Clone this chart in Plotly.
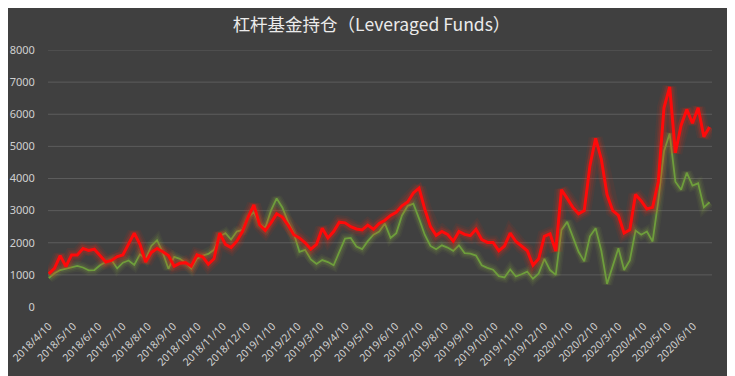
import plotly.graph_objects as go
import pandas as pd

# weekly report dates (Tuesday)
dates = pd.date_range("2018-04-10", periods=117, freq="7D")

red_values = [
    1030, 1200, 1600, 1260, 1620, 1620, 1820, 1760, 1800, 1600,
    1400, 1450, 1570, 1620, 1950, 2300, 1950, 1400, 1700, 1820,
    1720, 1600, 1270, 1360, 1380, 1270, 1620, 1560, 1330, 1500,
    2300, 1950, 1850, 2050, 2350, 2800, 3180, 2560, 2380, 2620,
    2900, 2800, 2550, 2250, 2150, 2000, 1800, 1950, 2450, 2150,
    2350, 2640, 2620, 2500, 2430, 2400, 2550, 2420, 2600, 2700,
    2850, 2950, 3150, 3270, 3550, 3700, 3050, 2500, 2230, 2350,
    2260, 2050, 2350, 2260, 2220, 2420, 2100, 2010, 2010, 1750,
    1900, 2300, 2040, 1880, 1750, 1300, 1500, 2200, 2280, 1740,
    3650, 3380, 3100, 2900, 3000, 4400, 5250, 4600, 3500, 3000,
    2850, 2300, 2400, 3500, 3300, 3050, 3100, 3900, 6200, 6850,
    4800, 5650, 6150, 5720, 6200, 5300, 5600,
]

green_values = [
    900, 1050, 1150, 1190, 1250, 1280, 1230, 1140, 1150, 1300,
    1400, 1460, 1200, 1380, 1450, 1310, 1640, 1500, 1900, 2080,
    1700, 1190, 1560, 1500, 1380, 1200, 1500, 1600, 1650, 1780,
    2200, 2300, 2100, 2350, 2400, 2800, 2950, 2580, 2460, 3000,
    3380, 3100, 2650, 2300, 1720, 1780, 1480, 1340, 1460, 1400,
    1300, 1700, 2130, 2150, 1880, 1800, 2050, 2250, 2350, 2600,
    2150, 2300, 2850, 3150, 3220, 2750, 2250, 1900, 1800, 1920,
    1850, 1750, 1920, 1680, 1660, 1600, 1300, 1220, 1160, 960,
    920, 1170, 950, 1020, 1100, 880, 1040, 1500, 1150, 1000,
    2400, 2650, 2200, 1720, 1420, 2200, 2450, 1750, 720, 1300,
    1830, 1150, 1450, 2380, 2250, 2350, 2040, 3300, 4850, 5400,
    3900, 3650, 4180, 3780, 3850, 3100, 3260,
]

tick_dates = [
    "2018-04-10", "2018-05-10", "2018-06-10", "2018-07-10", "2018-08-10",
    "2018-09-10", "2018-10-10", "2018-11-10", "2018-12-10", "2019-01-10",
    "2019-02-10", "2019-03-10", "2019-04-10", "2019-05-10", "2019-06-10",
    "2019-07-10", "2019-08-10", "2019-09-10", "2019-10-10", "2019-11-10",
    "2019-12-10", "2020-01-10", "2020-02-10", "2020-03-10", "2020-04-10",
    "2020-05-10", "2020-06-10",
]
tick_labels = [
    "2018/4/10", "2018/5/10", "2018/6/10", "2018/7/10", "2018/8/10",
    "2018/9/10", "2018/10/10", "2018/11/10", "2018/12/10", "2019/1/10",
    "2019/2/10", "2019/3/10", "2019/4/10", "2019/5/10", "2019/6/10",
    "2019/7/10", "2019/8/10", "2019/9/10", "2019/10/10", "2019/11/10",
    "2019/12/10", "2020/1/10", "2020/2/10", "2020/3/10", "2020/4/10",
    "2020/5/10", "2020/6/10",
]
y_ticks = [0, 1000, 2000, 3000, 4000, 5000, 6000, 7000, 8000]

BG = "#404040"
fig = go.Figure()

# gridlines (no line at zero, as in the reference)
for v in y_ticks[1:]:
    fig.add_hline(y=v, line_color="#5c5c5c", line_width=1, layer="below")

# green glow + line
for w, a in [(11, 0.06), (8, 0.08), (5, 0.12)]:
    fig.add_trace(go.Scatter(x=dates, y=green_values, mode="lines",
                             line=dict(color=f"rgba(150,190,60,{a})", width=w),
                             hoverinfo="skip", showlegend=False))
fig.add_trace(go.Scatter(x=dates, y=green_values, mode="lines",
                         line=dict(color="#6e9e3c", width=1.8),
                         name="green", showlegend=False))

# red glow + line
for w, a in [(14, 0.07), (10, 0.10), (7, 0.16)]:
    fig.add_trace(go.Scatter(x=dates, y=red_values, mode="lines",
                             line=dict(color=f"rgba(255,40,20,{a})", width=w),
                             hoverinfo="skip", showlegend=False))
fig.add_trace(go.Scatter(x=dates, y=red_values, mode="lines",
                         line=dict(color="#ff0a0a", width=3),
                         name="red", showlegend=False))

# page body adds an 8px margin, so the figure is 8px smaller and shifted
fig.update_layout(
    width=727, height=368,
    paper_bgcolor=BG, plot_bgcolor=BG,
    margin=dict(l=40, r=23, t=42, b=69),
    title=dict(text="杠杆基金持仓（Leveraged Funds）", x=0.5, xanchor="center",
               y=0.955, yanchor="middle",
               font=dict(family="Noto Sans CJK SC", size=17.5, color="#ebebeb")),
    font=dict(family="Noto Sans CJK SC", color="#d0d0d0"),
    showlegend=False,
)
fig.update_xaxes(
    type="date", range=["2018-04-09", "2020-07-03"],
    tickvals=tick_dates, ticktext=tick_labels, tickangle=-45,
    tickfont=dict(size=10.5, color="#d0d0d0", family="Noto Sans"),
    showgrid=False, zeroline=False, showline=False,
    ticks="outside", ticklen=8, tickcolor=BG, automargin=False,
)
fig.update_yaxes(
    range=[0, 8000], tickvals=y_ticks, ticktext=[str(v) for v in y_ticks],
    tickfont=dict(size=11, color="#d0d0d0", family="Noto Sans"),
    showgrid=False, zeroline=False, showline=False,
    ticks="outside", ticklen=10, tickcolor=BG, automargin=False,
)

fig.write_html("out.html")
